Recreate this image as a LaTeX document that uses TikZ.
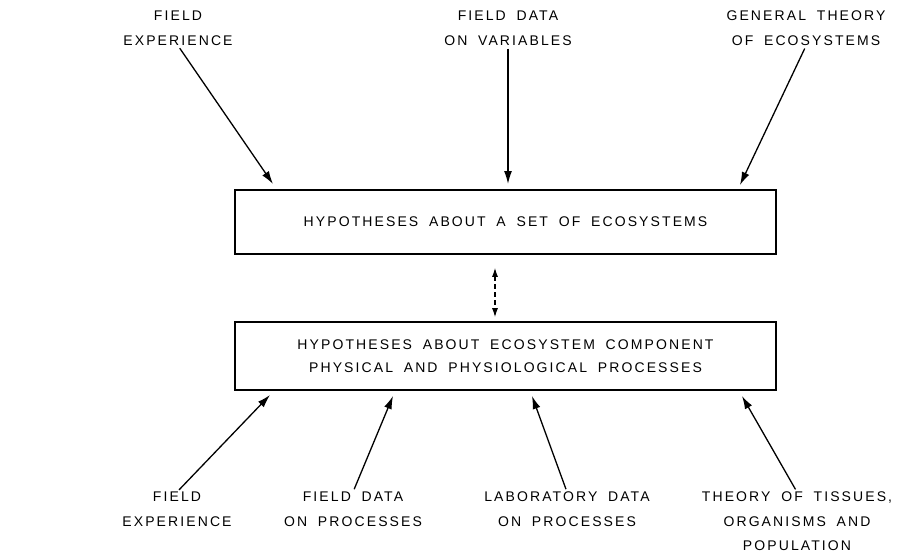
\documentclass[tikz,border=0pt]{standalone}
\usepackage{fontspec}
\setmainfont[LetterSpace=15,WordSpace=1.8]{Liberation Sans}
\usetikzlibrary{arrows.meta,positioning}

\begin{document}
\begin{tikzpicture}[x=1pt,y=-1pt,
        hypbox/.style={draw,line width=1.6pt,minimum width=541pt,inner sep=0pt,
            align=center,font=\fontsize{14}{23}\selectfont},
        srclabel/.style={align=center,inner sep=0pt,font=\fontsize{14}{24.5}\selectfont},
        feed/.style={-{Latex[length=13pt,width=8pt]},line width=1.3pt,shorten <=3pt},
        link/.style={{Latex[length=9pt,width=6pt]}-{Latex[length=9pt,width=6pt]},
            line width=1.2pt,dash pattern=on 5pt off 3pt}]
        \useasboundingbox (0,0) rectangle (898,557);

        % hypothesis boxes
        \node[hypbox,minimum height=64pt] (setbox) at (505.5,222)
            {HYPOTHESES ABOUT A SET OF ECOSYSTEMS};
        \node[hypbox,minimum height=68pt] (compbox) at (505.5,356)
            {HYPOTHESES ABOUT ECOSYSTEM COMPONENT\\PHYSICAL AND PHYSIOLOGICAL PROCESSES};

        % sources on top
        \node[srclabel,anchor=north] (fieldexptop) at (178,11) {FIELD\\EXPERIENCE};
        \node[srclabel,anchor=north] (fieldvar) at (508,11) {FIELD DATA\\ON VARIABLES};
        \node[srclabel,anchor=north] (gentheory) at (806,11) {GENERAL THEORY\\OF ECOSYSTEMS};

        % sources below
        \node[srclabel,anchor=north] (fieldexpbot) at (177,492) {FIELD\\EXPERIENCE};
        \node[srclabel,anchor=north] (fieldproc) at (353,492) {FIELD DATA\\ON PROCESSES};
        \node[srclabel,anchor=north] (labproc) at (567,492) {LABORATORY DATA\\ON PROCESSES};
        \node[srclabel,anchor=north] (tissues) at (797,492) {THEORY OF TISSUES,\\ORGANISMS AND\\POPULATION};

        % arrow tips at the boxes
        \coordinate (t1) at (273,184);
        \coordinate (t2) at (508,184);
        \coordinate (t3) at (740,185);
        \coordinate (b1) at (270,395);
        \coordinate (b2) at (393,396);
        \coordinate (b3) at (532,396);
        \coordinate (b4) at (742,396);

        \draw[feed] (fieldexptop.south) -- (t1);
        \draw[feed] (fieldvar.south) -- (t2);
        \draw[feed] (gentheory.south) -- (t3);
        \draw[feed] (fieldexpbot.north) -- (b1);
        \draw[feed] (fieldproc.north) -- (b2);
        \draw[feed] (labproc.north) -- (b3);
        \draw[feed] (tissues.north) -- (b4);

        % link between the two levels
        \draw[link] ([xshift=-10.5pt,yshift=-13pt]setbox.south) -- ([xshift=-10.5pt,yshift=4pt]compbox.north);
    \end{tikzpicture}
\end{document}
